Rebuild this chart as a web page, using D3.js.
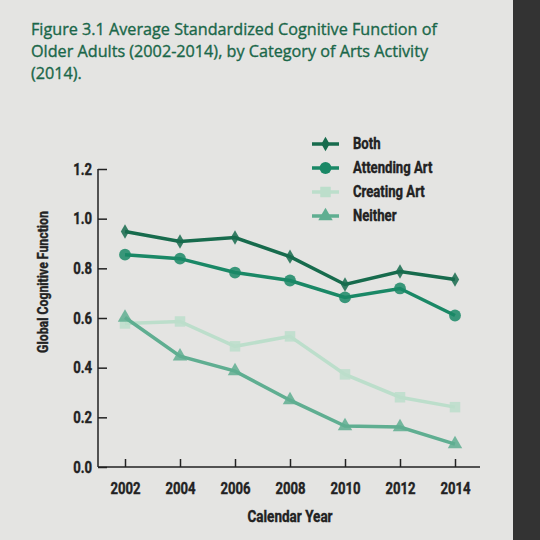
<!DOCTYPE html>
<html>
<head>
  <meta charset="UTF-8">
  <style>
    html, body { margin: 0; padding: 0; background: #e4e4e2; }
    svg { display: block; }
    .tick text { font-family: Roboto, sans-serif; font-weight: bold; fill: #222; stroke: #222; stroke-width: 0.4px; }
  </style>
</head>
<body>
<svg></svg>
<script src="https://d3js.org/d3.v7.min.js"></script>
<script>

let width = 540, height = 540;
let squeeze = 0.82; // fake a condensed face

let years = [2002, 2004, 2006, 2008, 2010, 2012, 2014];
let seriesNames = ["Both", "Attending Art", "Creating Art", "Neither"];
let both = [0.948, 0.908, 0.924, 0.847, 0.735, 0.787, 0.755];
let attending = [0.855, 0.839, 0.783, 0.751, 0.683, 0.719, 0.610];
let creating = [0.578, 0.586, 0.486, 0.526, 0.373, 0.281, 0.241];
let neither = [0.602, 0.446, 0.386, 0.269, 0.165, 0.161, 0.092];
let yTicks = [0, 0.2, 0.4, 0.6, 0.8, 1.0, 1.2];
let titleLines = [
  "Figure 3.1 Average Standardized Cognitive Function of",
  "Older Adults (2002-2014), by Category of Arts Activity",
  "(2014)."
];

let colors = ["#176b4d", "#1a8866", "#bcdecb", "#5fae91"];
let symbols = [d3.symbolDiamond, d3.symbolCircle, d3.symbolSquare, d3.symbolTriangle];
let symSizes = [60, 110, 110, 90];

let series = [both, attending, creating, neither].map((vals, i) => ({
  name: seriesNames[i],
  color: colors[i],
  symbol: symbols[i],
  size: symSizes[i],
  values: vals.map((v, j) => ({ year: years[j], value: v }))
}));

let svg = d3.select("svg")
  .attr("width", width)
  .attr("height", height);

// dark strip on the right
svg.append("rect")
  .attr("x", 513).attr("y", 0)
  .attr("width", 27).attr("height", height)
  .attr("fill", "#333333");

// title
svg.append("g")
  .selectAll("text")
  .data(titleLines)
  .enter()
  .append("text")
  .attr("x", 31)
  .attr("y", (d, i) => 35 + i * 22)
  .attr("fill", "#1a6749")
  .attr("stroke", "#1a6749")
  .attr("stroke-width", 0.35)
  .attr("font-family", "Open Sans, sans-serif")
  .attr("font-size", "16.2px")
  .text(d => d);

let x = d3.scalePoint()
  .domain(years)
  .range([125, 455]);

let y = d3.scaleLinear()
  .domain([0, 1.2])
  .range([467, 169]);

// y axis
let yAxis = svg.append("g")
  .attr("transform", "translate(98,0)")
  .call(d3.axisLeft(y).tickValues(yTicks).tickFormat(d3.format(".1f")).tickSizeInner(-9).tickSizeOuter(0));
yAxis.select(".domain").attr("stroke", "#222").attr("stroke-width", 1.5)
  .attr("d", "M0," + y(1.2) + "V" + y(0));
yAxis.selectAll(".tick line").attr("stroke", "#222").attr("stroke-width", 1.5);
yAxis.selectAll(".tick text")
  .attr("font-size", "16px")
  .attr("x", -6 / squeeze)
  .attr("transform", "scale(" + squeeze + ",1)");

// x axis
let xAxis = svg.append("g")
  .attr("transform", "translate(0," + y(0) + ")")
  .call(d3.axisBottom(x).tickSizeInner(-8).tickSizeOuter(0).tickPadding(16));
xAxis.select(".domain").attr("stroke", "#222").attr("stroke-width", 1.5)
  .attr("d", "M98,0H480");
xAxis.selectAll(".tick line").attr("stroke", "#222").attr("stroke-width", 1.5);
xAxis.selectAll(".tick text")
  .attr("font-size", "16px")
  .attr("transform", "scale(" + squeeze + ",1)");

// axis titles
svg.append("text")
  .attr("transform", "translate(48,282) rotate(-90) scale(" + squeeze + ",1)")
  .attr("text-anchor", "middle")
  .attr("font-family", "Roboto, sans-serif")
  .attr("font-weight", "bold")
  .attr("font-size", "15px")
  .attr("fill", "#222")
  .attr("stroke", "#222")
  .attr("stroke-width", 0.4)
  .text("Global Cognitive Function");

svg.append("text")
  .attr("transform", "translate(290,522) scale(" + squeeze + ",1)")
  .attr("text-anchor", "middle")
  .attr("font-family", "Roboto, sans-serif")
  .attr("font-weight", "bold")
  .attr("font-size", "16.5px")
  .attr("fill", "#222")
  .attr("stroke", "#222")
  .attr("stroke-width", 0.4)
  .text("Calendar Year");

// lines and markers, lightest drawn first
let line = d3.line()
  .x(d => x(d.year))
  .y(d => y(d.value));

let drawOrder = [2, 3, 1, 0];
drawOrder.forEach(i => {
  let s = series[i];
  let g = svg.append("g");
  g.append("path")
    .datum(s.values)
    .attr("fill", "none")
    .attr("stroke", s.color)
    .attr("stroke-width", 3.5)
    .attr("d", line);
  g.selectAll("path.mark")
    .data(s.values)
    .enter()
    .append("path")
    .attr("class", "mark")
    .attr("transform", d => "translate(" + x(d.year) + "," + y(d.value) + ")")
    .attr("d", d3.symbol().type(s.symbol).size(s.size))
    .attr("fill", s.color)
    .attr("fill-opacity", 0.85);
});

// legend
let legend = svg.append("g")
  .selectAll("g")
  .data(series)
  .enter()
  .append("g")
  .attr("transform", (d, i) => "translate(312," + (144 + i * 24) + ")");

legend.append("line")
  .attr("x1", 0).attr("x2", 27)
  .attr("stroke", d => d.color)
  .attr("stroke-width", 3.5);

legend.append("path")
  .attr("transform", "translate(13.5,0)")
  .attr("d", d => d3.symbol().type(d.symbol).size(d.size)())
  .attr("fill", d => d.color);

legend.append("text")
  .attr("transform", "translate(41,5) scale(" + squeeze + ",1)")
  .attr("font-family", "Roboto, sans-serif")
  .attr("font-weight", "bold")
  .attr("font-size", "16px")
  .attr("fill", "#222")
  .attr("stroke", "#222")
  .attr("stroke-width", 0.4)
  .text(d => d.name);

</script>
</body>
</html>
